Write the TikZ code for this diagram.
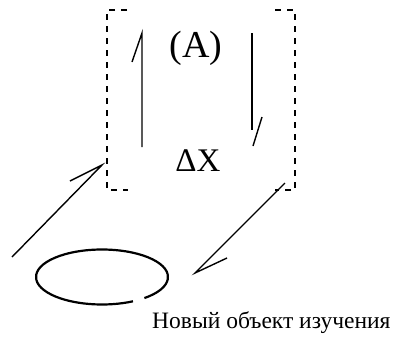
\documentclass[tikz,border=0pt]{standalone}
\usepackage{fontspec}
\setmainfont{Liberation Serif}
\begin{document}
\begin{tikzpicture}[x=1pt,y=-1pt,
  ln/.style={line width=1.4pt},
  brk/.style={line width=1.4pt, dash pattern=on 6pt off 6pt},
  lbl/.style={inner sep=0pt}]
\useasboundingbox (0,0) rectangle (396,338);
% brackets
\draw[brk] (127,10) -- (107,10) -- (107,190) -- (128,190);
\draw[brk] (275,10) -- (295,10) -- (295,190) -- (275,190);
% texts
\node[lbl, font=\fontsize{38}{44}\selectfont] (A) at (196,48) {(A)};
\node[lbl, font=\fontsize{33}{38}\selectfont] (dX) at (198,161) {ΔX};
\node[lbl, anchor=base west, font=\fontsize{23.5}{28}\selectfont] (lab) at (152,328) {Новый объект изучения};
% vertical arrows
\coordinate (l1) at (142,147); \coordinate (l2) at (142,33); \coordinate (l3) at (132,62);
\draw[ln] (l1) -- (l2) -- (l3);
\coordinate (r1) at (252,33); \coordinate (r2) at (252,130);
\coordinate (r3) at (253,146); \coordinate (r4) at (262,117);
\draw[ln] (r1) -- (r2);
\draw[ln] (r3) -- (r4);
% diagonal arrows
\coordinate (d1) at (12,257); \coordinate (d2) at (102,165); \coordinate (d3) at (70,181);
\draw[ln] (d1) -- (d2) -- (d3);
\coordinate (e1) at (285,183); \coordinate (e2) at (195,273); \coordinate (e3) at (227,258);
\draw[ln] (e1) -- (e2) -- (e3);
% ellipse
\coordinate (c) at (102,277);
\draw[line width=2.2pt] (c) ++(-50:66pt and 27.5pt) arc[start angle=-50, end angle=298, x radius=66pt, y radius=27.5pt];
\end{tikzpicture}
\end{document}
